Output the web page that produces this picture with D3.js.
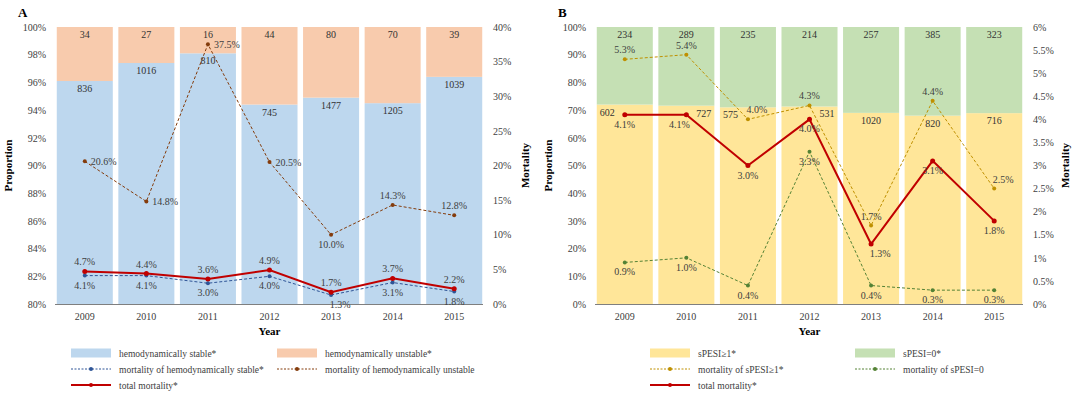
<!DOCTYPE html>
<html>
<head>
<meta charset="utf-8">
<script src="https://cdn.jsdelivr.net/npm/d3@7"></script>
<style>
  body { margin: 0; background: #fff; }
  text { font-family: "Liberation Serif", "DejaVu Serif", serif; }
</style>
</head>
<body>
<svg id="chart" width="1080" height="396"></svg>
<script>
// years on the x axis (both panels)
var years = ["2009", "2010", "2011", "2012", "2013", "2014", "2015"];

// panel A - counts and share of stable patients
var stableCount = [836, 1016, 810, 745, 1477, 1205, 1039];
var unstableCount = [34, 27, 16, 44, 80, 70, 39];
var stableShare = [96.1, 97.4, 98.1, 94.4, 94.9, 94.5, 96.4];
// panel A - mortality (%)
var mortStable = [4.1, 4.1, 3.0, 4.0, 1.3, 3.1, 1.8];
var mortUnstable = [20.6, 14.8, 37.5, 20.5, 10.0, 14.3, 12.8];
var mortTotalA = [4.7, 4.4, 3.6, 4.9, 1.7, 3.7, 2.2];

// panel B - counts and share of sPESI>=1 patients
var spesiHighCount = [602, 727, 575, 531, 1020, 820, 716];
var spesiZeroCount = [234, 289, 235, 214, 257, 385, 323];
var spesiHighShare = [72.0, 71.6, 71.0, 71.3, 69.0, 68.0, 68.9];
// panel B - mortality (%)
var mortHigh = [5.3, 5.4, 4.0, 4.3, 1.7, 4.4, 2.5];
var mortZero = [0.9, 1.0, 0.4, 3.3, 0.4, 0.3, 0.3];
var mortTotalB = [4.1, 4.1, 3.0, 4.0, 1.3, 3.1, 1.8];

// tick values
var ticksLeftA = [80, 82, 84, 86, 88, 90, 92, 94, 96, 98, 100];
var ticksRightA = [0, 5, 10, 15, 20, 25, 30, 35, 40];
var ticksLeftB = [0, 10, 20, 30, 40, 50, 60, 70, 80, 90, 100];
var ticksRightB = [0, 0.5, 1, 1.5, 2, 2.5, 3, 3.5, 4, 4.5, 5, 5.5, 6];

var svg = d3.select("#chart");
var plotTop = 27, plotBottom = 304;

function fmtPct(v) { return d3.format(".1f")(v) + "%"; }

function drawPanel(p) {
  var g = svg.append("g");
  var x = d3.scaleBand().domain(years).range([p.x0, p.x1])
    .paddingInner(0.09).paddingOuter(0.045);
  var yL = d3.scaleLinear().domain(p.leftDomain).range([plotBottom, plotTop]);
  var yR = d3.scaleLinear().domain(p.rightDomain).range([plotBottom, plotTop]);
  var cx = function(i) { return x(years[i]) + x.bandwidth() / 2; };

  g.append("text").attr("x", p.x0 - 36).attr("y", 17)
    .attr("font-size", 13).attr("font-weight", "bold").text(p.title);

  // bottom part of stack
  g.selectAll(".lo").data(p.share).enter().append("rect")
    .attr("x", (d, i) => x(years[i])).attr("width", x.bandwidth())
    .attr("y", d => yL(d)).attr("height", d => yL(p.leftDomain[0]) - yL(d))
    .attr("fill", p.colLow);
  // top part of stack
  g.selectAll(".hi").data(p.share).enter().append("rect")
    .attr("x", (d, i) => x(years[i])).attr("width", x.bandwidth())
    .attr("y", yL(p.leftDomain[1])).attr("height", d => yL(d) - yL(p.leftDomain[1]))
    .attr("fill", p.colHigh);

  // count labels
  g.selectAll(".ct").data(p.highCount).enter().append("text")
    .attr("x", (d, i) => cx(i)).attr("y", plotTop + 11)
    .attr("text-anchor", "middle").attr("font-size", 10).attr("fill", "#333")
    .text(d => d);
  g.selectAll(".cb").data(p.lowCount).enter().append("text")
    .attr("x", (d, i) => {
      var a = p.lowAnchor[i];
      if (a === "left") return x(years[i]) + 3;
      if (a === "right") return x(years[i]) + x.bandwidth() - 3;
      return cx(i);
    })
    .attr("y", (d, i) => yL(p.share[i]) + 11)
    .attr("text-anchor", (d, i) => p.lowAnchor[i] === "left" ? "start" : p.lowAnchor[i] === "right" ? "end" : "middle")
    .attr("font-size", 10).attr("fill", "#333").text(d => d);

  // axes
  g.append("line").attr("x1", p.x0 + 1).attr("x2", p.x1 - 2)
    .attr("y1", plotBottom + 0.5).attr("y2", plotBottom + 0.5).attr("stroke", "#7f7f7f").attr("stroke-width", 1.2);

  var axL = g.append("g").attr("transform", "translate(" + (p.x0 - 2) + ",0)")
    .call(d3.axisLeft(yL).tickValues(p.ticksL).tickSize(0).tickPadding(6).tickFormat(d => d + "%"));
  var axR = g.append("g").attr("transform", "translate(" + (p.x1 + 2) + ",0)")
    .call(d3.axisRight(yR).tickValues(p.ticksR).tickSize(0).tickPadding(6).tickFormat(d => d + "%"));
  var axX = g.append("g").attr("transform", "translate(0," + plotBottom + ")")
    .call(d3.axisBottom(x).tickSize(0).tickPadding(9));
  [axL, axR, axX].forEach(function(a) {
    a.select(".domain").remove();
    a.selectAll("text").attr("font-family", "Liberation Serif").attr("font-size", 10).attr("fill", "#404040");
  });

  g.append("text").attr("transform", "translate(" + (p.x0 - 42) + "," + ((plotTop + plotBottom) / 2) + ") rotate(-90)")
    .attr("text-anchor", "middle").attr("font-size", 11).attr("font-weight", "bold").text("Proportion");
  g.append("text").attr("transform", "translate(" + (p.x1 + 44) + "," + ((plotTop + plotBottom) / 2) + ") rotate(-90)")
    .attr("text-anchor", "middle").attr("font-size", 11).attr("font-weight", "bold").text("Mortality");
  g.append("text").attr("x", (p.x0 + p.x1) / 2).attr("y", plotBottom + 31)
    .attr("text-anchor", "middle").attr("font-size", 11).attr("font-weight", "bold").text("Year");

  // lines
  p.lines.forEach(function(s) {
    var line = d3.line().x((d, i) => cx(i)).y(d => yR(d));
    g.append("path").datum(s.values).attr("d", line).attr("fill", "none")
      .attr("stroke", s.color).attr("stroke-width", s.width)
      .attr("stroke-dasharray", s.dash ? "3,2" : null);
    g.selectAll(null).data(s.values).enter().append("circle")
      .attr("cx", (d, i) => cx(i)).attr("cy", d => yR(d)).attr("r", s.dash ? 2 : 2.5)
      .attr("fill", s.color);
    g.selectAll(null).data(s.values).enter().append("text")
      .attr("x", (d, i) => {
        var pl = s.place[i];
        if (pl === "right") return cx(i) + 6;
        if (pl === "aboveRight" || pl === "belowRight") return cx(i) + 9;
        if (pl === "belowLeft") return cx(i) - 7;
        return cx(i);
      })
      .attr("y", (d, i) => {
        var pl = s.place[i];
        if (pl === "right") return yR(d) + 3.5;
        if (pl.indexOf("above") === 0) return yR(d) - 6;
        return yR(d) + 13;
      })
      .attr("text-anchor", (d, i) => s.place[i] === "right" ? "start" : "middle")
      .attr("font-size", 10).attr("fill", "#404040").text(d => fmtPct(d));
  });

  // legend
  var lg = g.append("g");
  var rows = [353, 369, 385];
  p.legend.forEach(function(e, k) {
    var lx = e.col === 0 ? p.legX[0] : p.legX[1];
    var ly = rows[e.row];
    if (e.type === "rect") {
      lg.append("rect").attr("x", lx).attr("y", ly - 4.5).attr("width", 40).attr("height", 9).attr("fill", e.color);
    } else {
      lg.append("line").attr("x1", lx).attr("x2", lx + 40).attr("y1", ly).attr("y2", ly)
        .attr("stroke", e.color).attr("stroke-width", e.dash ? 1 : 2)
        .attr("stroke-dasharray", e.dash ? "2,1.5" : null);
      lg.append("circle").attr("cx", lx + 20).attr("cy", ly).attr("r", 2).attr("fill", e.color);
    }
    lg.append("text").attr("x", lx + 48).attr("y", ly + 3.5).attr("font-size", 9.5)
      .attr("fill", "#404040").text(e.label);
  });
}

var redTotal = "#c00000";

drawPanel({
  title: "A", x0: 54, x1: 485,
  leftDomain: [80, 100], rightDomain: [0, 40],
  ticksL: ticksLeftA, ticksR: ticksRightA,
  share: stableShare, lowCount: stableCount, highCount: unstableCount,
  lowAnchor: ["mid", "mid", "mid", "mid", "mid", "mid", "mid"],
  colLow: "#bdd7ee", colHigh: "#f8cbad",
  lines: [
    { values: mortUnstable, color: "#843c0c", width: 1, dash: true,
      place: ["right", "right", "right", "right", "below", "above", "above"] },
    { values: mortStable, color: "#2f5597", width: 1, dash: true,
      place: ["below", "below", "below", "below", "belowRight", "below", "below"] },
    { values: mortTotalA, color: redTotal, width: 2, dash: false,
      place: ["above", "above", "above", "above", "above", "above", "above"] }
  ],
  legX: [71, 277],
  legend: [
    { type: "rect", color: "#bdd7ee", label: "hemodynamically stable*", col: 0, row: 0 },
    { type: "rect", color: "#f8cbad", label: "hemodynamically unstable*", col: 1, row: 0 },
    { type: "line", dash: true, color: "#2f5597", label: "mortality of hemodynamically stable*", col: 0, row: 1 },
    { type: "line", dash: true, color: "#843c0c", label: "mortality of hemodynamically unstable", col: 1, row: 1 },
    { type: "line", dash: false, color: redTotal, label: "total mortality*", col: 0, row: 2 }
  ]
});

drawPanel({
  title: "B", x0: 594, x1: 1025,
  leftDomain: [0, 100], rightDomain: [0, 6],
  ticksL: ticksLeftB, ticksR: ticksRightB,
  share: spesiHighShare, lowCount: spesiHighCount, highCount: spesiZeroCount,
  lowAnchor: ["left", "right", "left", "right", "mid", "mid", "mid"],
  colLow: "#ffe699", colHigh: "#c5e0b4",
  lines: [
    { values: mortHigh, color: "#bf9000", width: 1, dash: true,
      place: ["above", "above", "aboveRight", "above", "above", "above", "aboveRight"] },
    { values: mortZero, color: "#548235", width: 1, dash: true,
      place: ["below", "below", "below", "below", "below", "below", "below"] },
    { values: mortTotalB, color: redTotal, width: 2, dash: false,
      place: ["below", "belowLeft", "below", "below", "belowRight", "below", "below"] }
  ],
  legX: [650, 855],
  legend: [
    { type: "rect", color: "#ffe699", label: "sPESI\u22651*", col: 0, row: 0 },
    { type: "rect", color: "#c5e0b4", label: "sPESI=0*", col: 1, row: 0 },
    { type: "line", dash: true, color: "#bf9000", label: "mortality of sPESI\u22651*", col: 0, row: 1 },
    { type: "line", dash: true, color: "#548235", label: "mortality of sPESI=0", col: 1, row: 1 },
    { type: "line", dash: false, color: redTotal, label: "total mortality*", col: 0, row: 2 }
  ]
});
</script>
</body>
</html>
